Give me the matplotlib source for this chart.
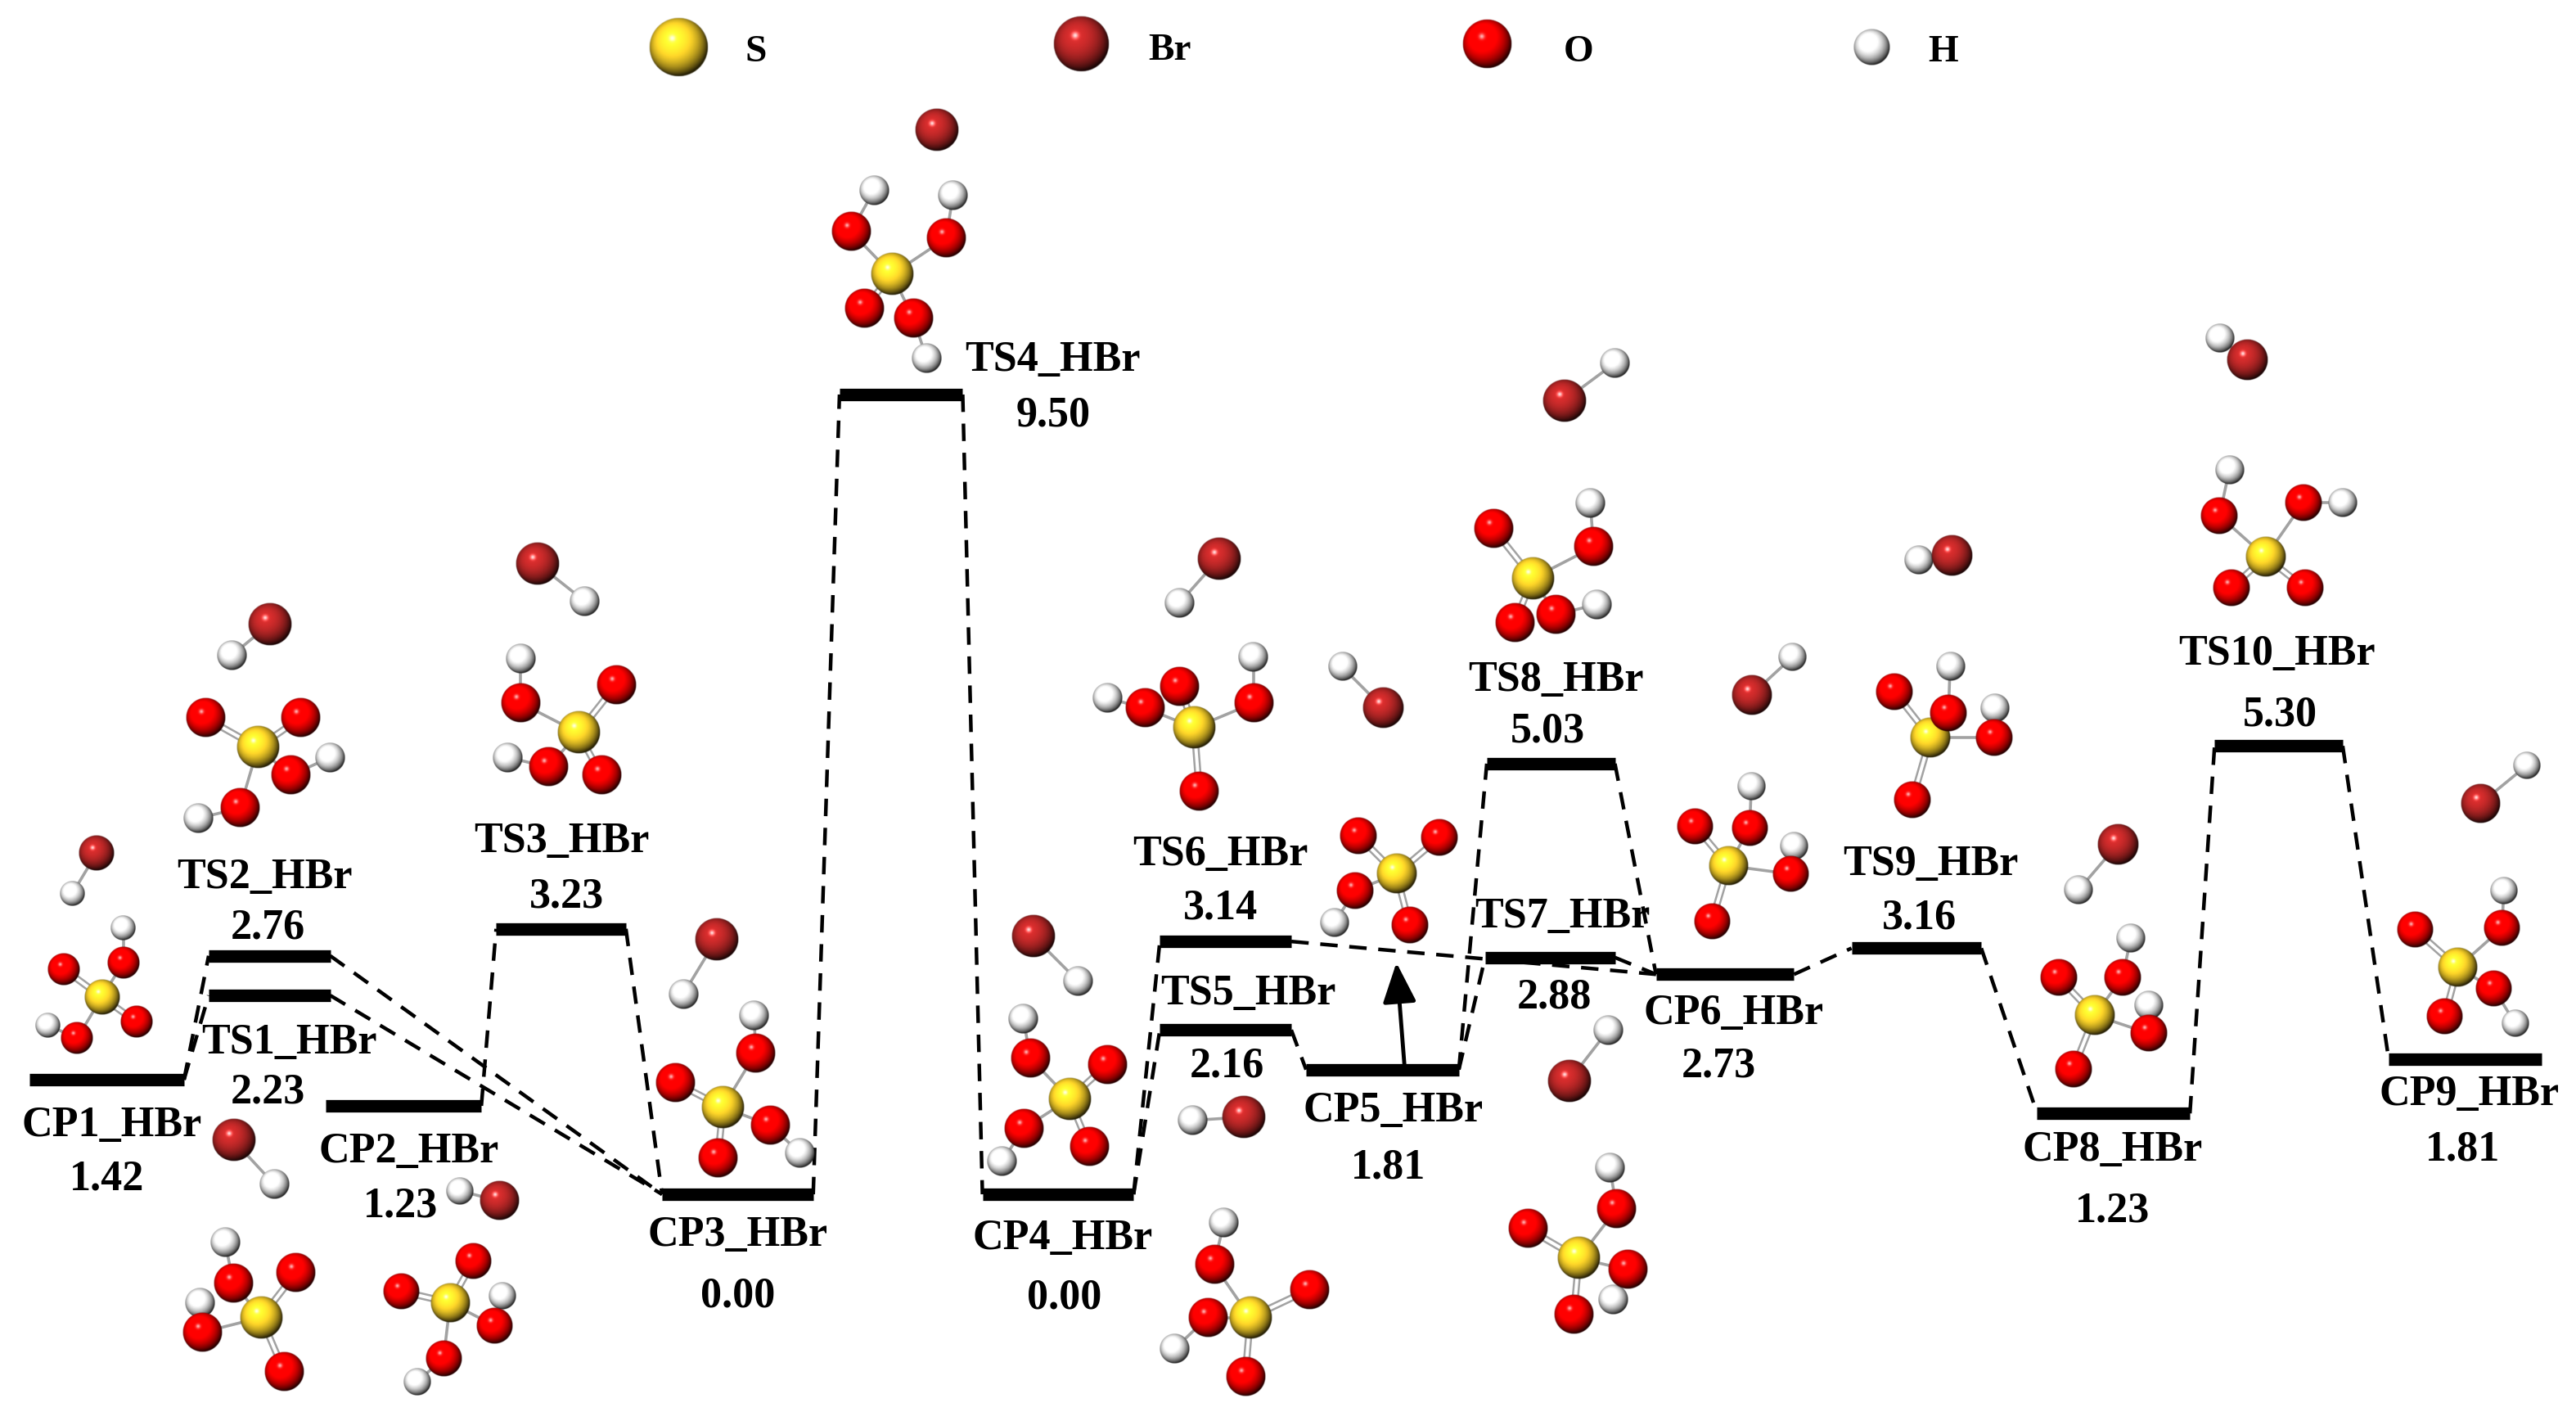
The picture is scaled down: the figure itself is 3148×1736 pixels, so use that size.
import numpy as np
import matplotlib
matplotlib.use("Agg")
import matplotlib.pyplot as plt

# energy levels, name order follows the drawn diagram
level_names = ["CP1", "TS1", "TS2", "CP2", "TS3", "CP3", "TS4", "CP4", "TS5", "TS6",
               "CP5", "TS7", "TS8", "CP6", "TS9", "CP8", "TS10", "CP9"]
level_energy = [1.36, 2.36, 2.83, 1.05, 3.15, 0.00, 9.49, 0.00, 1.95, 3.00,
                1.48, 2.81, 5.11, 2.61, 2.92, 0.96, 5.32, 1.60]
level_start = [18, 127, 127, 198, 302, 403, 511, 598, 706, 706,
               795, 904, 905, 1008, 1127, 1240, 1348, 1454]
level_end = [112, 201, 201, 293, 381, 495, 586, 690, 786, 786,
             888, 983, 983, 1092, 1206, 1333, 1426, 1547]
connections = [("CP1", "TS1"), ("CP1", "TS2"), ("TS1", "CP3"), ("TS2", "CP3"),
               ("CP2", "TS3"), ("TS3", "CP3"), ("CP3", "TS4"), ("TS4", "CP4"),
               ("CP4", "TS5"), ("CP4", "TS6"), ("TS5", "CP5"), ("TS6", "CP6"),
               ("CP5", "TS7"), ("CP5", "TS8"), ("TS7", "CP6"), ("TS8", "CP6"),
               ("CP6", "TS9"), ("TS9", "CP8"), ("CP8", "TS10"), ("TS10", "CP9")]

label_text = ["CP1_HBr", "TS1_HBr", "TS2_HBr", "CP2_HBr", "TS3_HBr", "CP3_HBr",
              "TS4_HBr", "CP4_HBr", "TS5_HBr", "TS6_HBr", "CP5_HBr", "TS7_HBr",
              "TS8_HBr", "CP6_HBr", "TS9_HBr", "CP8_HBr", "TS10_HBr", "CP9_HBr"]
label_value = ["1.42", "2.23", "2.76", "1.23", "3.23", "0.00", "9.50", "0.00", "2.16",
               "3.14", "1.81", "2.88", "5.03", "2.73", "3.16", "1.23", "5.30", "1.81"]
label_pos = [(68, 685), (176, 635), (161, 534), (249, 701), (342, 512), (449, 752),
             (641, 219), (647, 754), (760, 605), (743, 520), (848, 676), (951, 558),
             (947, 414), (1055, 617), (1175, 526), (1286, 700), (1386, 398), (1503, 666)]
value_pos = [(65, 718), (163, 665), (163, 565), (244, 734), (345, 546), (449, 789),
             (641, 253), (648, 790), (747, 649), (743, 553), (845, 711), (946, 607),
             (942, 445), (1046, 649), (1168, 559), (1286, 737), (1388, 435), (1499, 700)]

# legend
legend_atoms = ["S", "Br", "O", "H"]
legend_balls = [(413, 29, 18), (658, 27, 17), (905, 27, 15), (1139, 29, 11)]
legend_text = [(460, 32), (712, 31), (961, 32), (1183, 32)]

# molecule pictures, atom positions
mol_cp1 = [("Br", 59, 519), ("H", 44, 544), ("H", 75, 565), ("O", 39, 590), ("O", 75, 586),
           ("S", 62, 607), ("O", 83, 622), ("O", 47, 632), ("H", 29, 624)]
mol_ts2 = [("Br", 164, 380), ("H", 141, 399), ("O", 125, 437), ("O", 183, 437), ("S", 157, 455),
           ("O", 177, 472), ("H", 201, 461), ("O", 146, 492), ("H", 121, 498)]
mol_ts3 = [("Br", 327, 343), ("H", 356, 366), ("H", 317, 401), ("O", 317, 428), ("O", 375, 417),
           ("S", 352, 446), ("O", 334, 467), ("H", 309, 461), ("O", 366, 472)]
mol_ts1 = [("Br", 142, 694), ("H", 167, 721), ("H", 137, 756), ("O", 142, 781), ("O", 180, 775),
           ("H", 122, 793), ("O", 123, 811), ("S", 159, 802), ("O", 173, 835)]
mol_cp2 = [("H", 280, 725), ("Br", 304, 731), ("O", 288, 768), ("O", 244, 786), ("S", 274, 793),
           ("H", 306, 789), ("O", 301, 807), ("O", 270, 827), ("H", 254, 841)]
mol_cp3 = [("Br", 436, 572), ("H", 416, 605), ("H", 459, 618), ("O", 460, 641), ("O", 411, 659),
           ("S", 440, 674), ("O", 469, 685), ("O", 437, 705), ("H", 487, 702)]
mol_ts4 = [("Br", 570, 79), ("H", 532, 116), ("H", 580, 119), ("O", 518, 141), ("O", 576, 145),
           ("S", 543, 167), ("O", 526, 188), ("O", 556, 194), ("H", 564, 218)]
mol_cp4 = [("Br", 629, 570), ("H", 656, 597), ("H", 623, 620), ("O", 627, 644), ("O", 674, 648),
           ("S", 651, 669), ("O", 623, 687), ("O", 663, 698), ("H", 610, 707)]
mol_ts6 = [("Br", 742, 340), ("H", 718, 367), ("H", 763, 400), ("O", 718, 418), ("H", 674, 425),
           ("O", 697, 431), ("O", 763, 428), ("S", 727, 443), ("O", 730, 482)]
mol_ts5 = [("H", 726, 682), ("Br", 757, 680), ("H", 745, 744), ("O", 739, 770), ("O", 797, 785),
           ("S", 761, 802), ("O", 735, 802), ("H", 715, 821), ("O", 758, 838)]
mol_cp5 = [("H", 817, 406), ("Br", 842, 431), ("O", 827, 509), ("O", 876, 510), ("S", 850, 532),
           ("O", 825, 542), ("O", 858, 563), ("H", 812, 562)]
mol_ts7 = [("H", 979, 627), ("Br", 955, 658), ("H", 980, 711), ("O", 984, 736), ("O", 930, 748),
           ("S", 961, 766), ("O", 991, 773), ("H", 982, 791), ("O", 958, 800)]
mol_ts8 = [("Br", 952, 244), ("H", 983, 221), ("H", 968, 306), ("O", 909, 322), ("O", 970, 333),
           ("S", 933, 352), ("O", 922, 379), ("O", 947, 374), ("H", 972, 368)]
mol_cp6 = [("Br", 1066, 423), ("H", 1091, 400), ("H", 1066, 479), ("O", 1032, 503), ("O", 1065, 504),
           ("S", 1052, 527), ("O", 1090, 532), ("H", 1092, 515), ("O", 1042, 561)]
mol_ts9 = [("Br", 1188, 338), ("H", 1168, 341), ("O", 1153, 421), ("H", 1187, 406), ("O", 1186, 434),
           ("H", 1214, 431), ("S", 1175, 449), ("O", 1214, 449), ("O", 1164, 487)]
mol_ts10 = [("H", 1351, 206), ("Br", 1368, 219), ("H", 1357, 286), ("O", 1351, 314), ("O", 1402, 306),
            ("H", 1426, 306), ("S", 1379, 339), ("O", 1358, 358), ("O", 1403, 358)]
mol_cp8 = [("Br", 1289, 514), ("H", 1265, 542), ("H", 1297, 571), ("O", 1253, 595), ("O", 1292, 595),
           ("H", 1308, 612), ("S", 1275, 618), ("O", 1308, 629), ("O", 1262, 651)]
mol_cp9 = [("H", 1538, 466), ("Br", 1510, 489), ("H", 1524, 542), ("O", 1470, 566), ("O", 1523, 565),
           ("S", 1496, 589), ("O", 1518, 602), ("H", 1531, 623), ("O", 1488, 619)]

molecules = [(mol_cp1, 0.83), (mol_ts2, 1.0), (mol_ts3, 1.0), (mol_ts1, 1.0), (mol_cp2, 0.92),
             (mol_cp3, 1.0), (mol_ts4, 1.0), (mol_cp4, 1.0), (mol_ts6, 1.0), (mol_ts5, 1.0),
             (mol_cp5, 0.95), (mol_ts7, 1.0), (mol_ts8, 1.0), (mol_cp6, 0.93), (mol_ts9, 0.95),
             (mol_ts10, 0.95), (mol_cp8, 0.95), (mol_cp9, 0.92)]

atom_radius = {"S": 13, "Br": 13.2, "O": 12, "H": 9.2}
atom_color = {"S": (1.0, 0.84, 0.16), "Br": (0.72, 0.15, 0.15), "O": (1.0, 0.0, 0.0), "H": (0.95, 0.95, 0.95)}
draw_order = ["S", "H", "O", "Br"]
bond_color = "#a2a2a2"


def sphere_image(color, n=96):
    # shaded ball with a small highlight, light from the upper left
    yy, xx = np.mgrid[-1:1:n * 1j, -1:1:n * 1j]
    rr = np.sqrt(xx ** 2 + yy ** 2)
    zz = np.sqrt(np.clip(1 - rr ** 2, 0, 1))
    light = np.array([-0.22, -0.30, 0.93])
    diff = np.clip(xx * light[0] + yy * light[1] + zz * light[2], 0, 1)
    spec = np.clip((xx + 0.22) ** 2 + (yy + 0.30) ** 2, 0, None)
    spec = np.exp(-spec / 0.012) * 0.7
    img = np.zeros((n, n, 4))
    for i in range(3):
        img[..., i] = np.clip(color[i] * (0.16 + 1.05 * diff ** 1.1) + spec, 0, 1)
    img[..., 3] = np.clip((1 - rr) * n / 3, 0, 1)
    return img


sphere = {k: sphere_image(v) for k, v in atom_color.items()}


def draw_ball(ax, kind, x, y, r):
    ax.imshow(sphere[kind], extent=(x - r, x + r, y + r, y - r), aspect="auto",
              interpolation="bilinear", zorder=5)


def draw_bond(ax, p, q, double=False):
    if double:
        d = np.array([q[0] - p[0], q[1] - p[1]], dtype=float)
        d = np.array([-d[1], d[0]]) / np.hypot(*d) * 1.6
        for s in (-1, 1):
            ax.plot([p[0] + s * d[0], q[0] + s * d[0]], [p[1] + s * d[1], q[1] + s * d[1]],
                    color=bond_color, lw=1.8, zorder=4, solid_capstyle="butt")
    else:
        ax.plot([p[0], q[0]], [p[1], q[1]], color=bond_color, lw=2.6, zorder=4, solid_capstyle="butt")


def draw_molecule(ax, atoms, scale):
    heavy = [a for a in atoms if a[0] != "H"]
    bonded = set()
    for a in atoms:
        if a[0] != "H":
            continue
        dist = [np.hypot(a[1] - b[1], a[2] - b[2]) for b in heavy]
        j = int(np.argmin(dist))
        if dist[j] < 42:
            draw_bond(ax, a[1:], heavy[j][1:])
            bonded.add(heavy[j])
    sulfur = [a for a in atoms if a[0] == "S"][0]
    for a in atoms:
        if a[0] == "O":
            draw_bond(ax, sulfur[1:], a[1:], double=a not in bonded)
    for kind in draw_order:
        for a in atoms:
            if a[0] == kind:
                draw_ball(ax, kind, a[1], a[2], atom_radius[kind] * scale)


fig = plt.figure(figsize=(31.48, 17.36), dpi=100, facecolor="white")

# energy axis: bars and dashed links
ax_e = fig.add_axes([0, 0, 1, 1])
ax_e.set_xlim(0, 1568)
ax_e.set_ylim((727 - 865) / 51.3, 727 / 51.3)
ax_e.axis("off")

level = {n: (e, s, t) for n, e, s, t in zip(level_names, level_energy, level_start, level_end)}
for a, b in connections:
    ea, sa, ta = level[a]
    eb, sb, tb = level[b]
    ax_e.plot([ta, sb], [ea, eb], color="black", lw=3.2, linestyle=(0, (4.8, 3.2)), zorder=2)
ax_e.hlines(level_energy, level_start, level_end, color="black", lw=11, zorder=3)

# picture axis: molecules and text, same size as the figure
ax_m = fig.add_axes([0, 0, 1, 1])
ax_m.patch.set_alpha(0)
for atoms, scale in molecules:
    draw_molecule(ax_m, atoms, scale)

serif = dict(family="Liberation Serif", fontweight="bold", color="black", ha="center", va="center")
for txt, val, p, q in zip(label_text, label_value, label_pos, value_pos):
    ax_m.text(p[0], p[1], txt, fontsize=37.5, zorder=6, **serif)
    ax_m.text(q[0], q[1], val, fontsize=37.5, zorder=6, **serif)

for kind, ball, pos in zip(legend_atoms, legend_balls, legend_text):
    draw_ball(ax_m, kind, ball[0], ball[1], ball[2])
    ax_m.text(pos[0], pos[1], kind, fontsize=34, zorder=6, **serif)

# arrow from CP5 up to the TS6-CP6 link
ax_m.annotate("", xy=(850, 586), xytext=(855, 650),
              arrowprops=dict(arrowstyle="-|>,head_length=1.0,head_width=0.42", color="black",
                              lw=3.5, shrinkA=0, shrinkB=0, mutation_scale=30), zorder=6)

ax_m.set_xlim(0, 1568)
ax_m.set_ylim(865, 0)
ax_m.axis("off")

fig.savefig("out.png", dpi=100)
